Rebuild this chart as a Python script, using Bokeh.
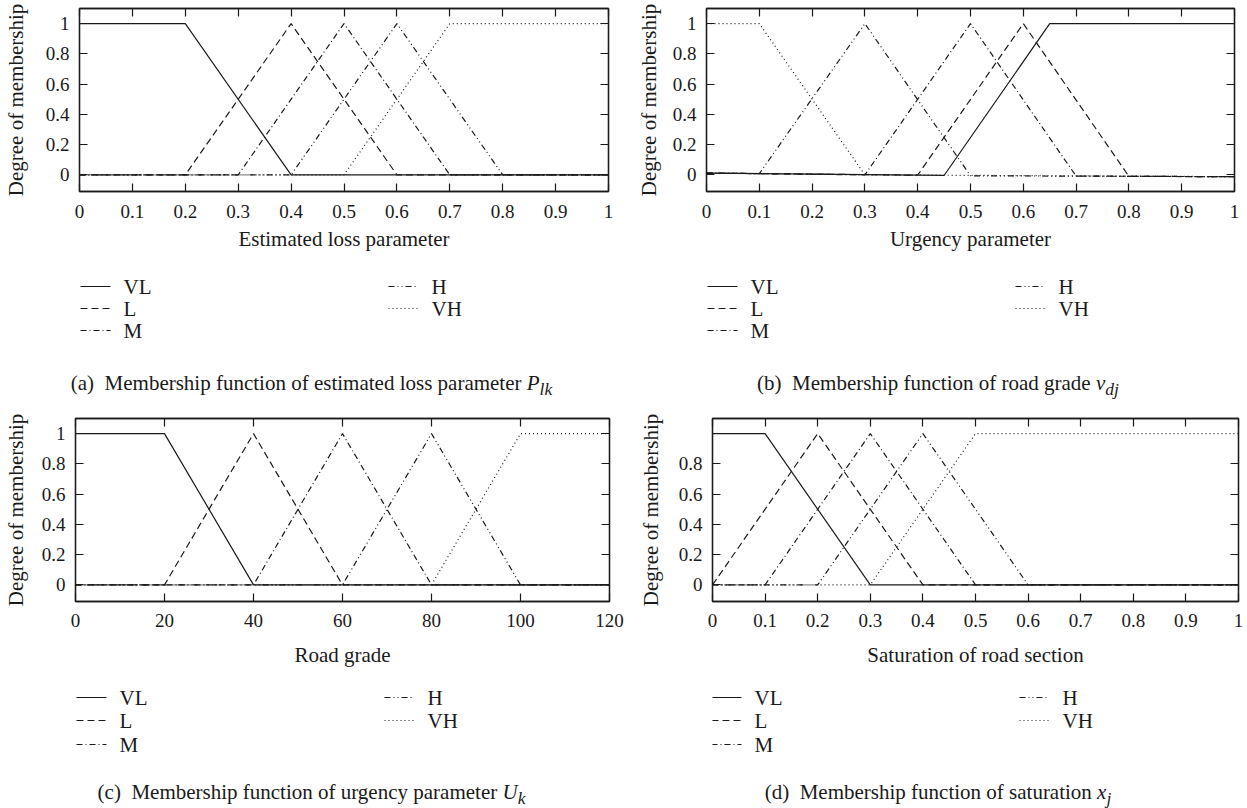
from bokeh.plotting import figure
from bokeh.models import Range1d, LinearAxis, FixedTicker, Div
from bokeh.layouts import column, row
from bokeh.core.properties import value
from bokeh.embed import file_html
from bokeh.resources import INLINE

LABELS = ["VL", "L", "M", "H", "VH"]

# (a) Estimated loss parameter
a_x = {"VL": [0, 0.2, 0.4, 1], "L": [0, 0.2, 0.4, 0.6, 1], "M": [0, 0.3, 0.5, 0.7, 1],
       "H": [0, 0.4, 0.6, 0.8, 1], "VH": [0, 0.5, 0.7, 1]}
a_y = {"VL": [1, 1, 0, 0], "L": [0, 0, 1, 0, 0], "M": [0, 0, 1, 0, 0],
       "H": [0, 0, 1, 0, 0], "VH": [0, 0, 1, 1]}

# (b) Urgency parameter
b_x = {"VL": [0, 0.45, 0.65, 1], "L": [0, 0.4, 0.6, 0.8, 1], "M": [0, 0.3, 0.5, 0.7, 1],
       "H": [0, 0.1, 0.3, 0.5, 1], "VH": [0, 0.1, 0.3, 1]}
b_y = {"VL": [0.012, -0.004, 1, 1], "L": [0.012, -0.002, 1, -0.01, -0.012],
       "M": [0.012, 0.0, 1, -0.008, -0.012], "H": [0.012, 0.008, 1, -0.006, -0.012],
       "VH": [1, 1, 0.0, -0.012]}

# (c) Road grade
c_x = {"VL": [0, 20, 40, 120], "L": [0, 20, 40, 60, 120], "M": [0, 40, 60, 80, 120],
       "H": [0, 60, 80, 100, 120], "VH": [0, 80, 100, 120]}
c_y = {"VL": [1, 1, 0, 0], "L": [0, 0, 1, 0, 0], "M": [0, 0, 1, 0, 0],
       "H": [0, 0, 1, 0, 0], "VH": [0, 0, 1, 1]}

# (d) Saturation of road section
d_x = {"VL": [0, 0.1, 0.3, 1], "L": [0, 0.2, 0.4, 1], "M": [0, 0.1, 0.3, 0.5, 1],
       "H": [0, 0.2, 0.4, 0.6, 1], "VH": [0, 0.3, 0.5, 1]}
d_y = {"VL": [1, 1, 0, 0], "L": [0, 1, 0, 0], "M": [0, 0, 1, 0, 0],
       "H": [0, 0, 1, 0, 0], "VH": [0, 0, 1, 1]}

x_ticks_unit = [0, 0.1, 0.2, 0.3, 0.4, 0.5, 0.6, 0.7, 0.8, 0.9, 1]
x_labels_unit = ["0", "0.1", "0.2", "0.3", "0.4", "0.5", "0.6", "0.7", "0.8", "0.9", "1"]
x_ticks_grade = [0, 20, 40, 60, 80, 100, 120]
x_labels_grade = ["0", "20", "40", "60", "80", "100", "120"]
y_ticks = [0, 0.2, 0.4, 0.6, 0.8, 1]
y_labels = ["0", "0.2", "0.4", "0.6", "0.8", "1"]
y_ticks_d = [0, 0.2, 0.4, 0.6, 0.8]
y_labels_d = ["0", "0.2", "0.4", "0.6", "0.8"]

x_titles = ["Estimated loss parameter", "Urgency parameter", "Road grade", "Saturation of road section"]
captions = [
    "(a)&nbsp; Membership function of estimated loss parameter <i>P</i><sub><i>lk</i></sub>",
    "(b)&nbsp; Membership function of road grade <i>v</i><sub><i>dj</i></sub>",
    "(c)&nbsp; Membership function of urgency parameter <i>U</i><sub><i>k</i></sub>",
    "(d)&nbsp; Membership function of saturation <i>x</i><sub><i>j</i></sub>",
]

DASH = {"VL": "solid", "L": "7 4", "M": "6 3 1 3", "H": "6 3 1 3 1 3", "VH": "1 3"}
FONT = "Liberation Serif"
INK = "#1a1a1a"
LEG_COL = {"VL": 0, "L": 0, "M": 0, "H": 1, "VH": 1}
LEG_ROW = {"VL": 0, "L": 1, "M": 2, "H": 0, "VH": 1}


def style_axis(ax, ticks, labels, show, standoff=12):
    ax.ticker = FixedTicker(ticks=ticks)
    ax.major_tick_in = 8
    ax.major_tick_out = 0
    ax.minor_tick_in = 0
    ax.minor_tick_out = 0
    ax.major_tick_line_color = INK
    ax.major_tick_line_width = 1.2
    ax.axis_line_color = INK
    ax.axis_line_width = 1.3
    if show:
        ax.major_label_overrides = {t: s for t, s in zip(ticks, labels)}
        ax.major_label_text_font = FONT
        ax.major_label_text_font_size = "19px"
        ax.major_label_text_color = INK
        ax.major_label_standoff = standoff
        ax.axis_label_text_font = FONT
        ax.axis_label_text_font_size = "21px"
        ax.axis_label_text_font_style = "normal"
        ax.axis_label_text_color = INK
    else:
        ax.major_label_overrides = {t: "" for t in ticks}
        ax.major_label_text_font_size = "0px"
        ax.major_label_standoff = 0


def panel(xs, ys, xmax, xticks, xlabels, yt, yl, xtitle, left, right, fw, top,
          tick_sd, xlab_sd, ylab_sd):
    p = figure(frame_width=fw, frame_height=183, x_range=Range1d(0, xmax),
               y_range=Range1d(-0.11, 1.1), output_backend="svg", toolbar_location=None,
               min_border_left=left, min_border_right=right, min_border_top=top,
               min_border_bottom=70)
    p.grid.visible = False
    p.outline_line_color = INK
    p.outline_line_width = 1.3
    p.border_fill_color = "white"
    for lab in LABELS:
        p.line(xs[lab], ys[lab], line_color=INK, line_width=1.2, line_dash=DASH[lab])

    style_axis(p.xaxis[0], xticks, xlabels, True, tick_sd)
    p.xaxis[0].axis_label = xtitle
    p.xaxis[0].axis_label_standoff = xlab_sd
    style_axis(p.yaxis[0], yt, yl, True, 10)
    p.yaxis[0].axis_label = "Degree of membership"
    p.yaxis[0].axis_label_standoff = ylab_sd

    top_ax = LinearAxis()
    style_axis(top_ax, xticks, xlabels, False)
    p.add_layout(top_ax, "above")
    right_ax = LinearAxis()
    style_axis(right_ax, yt, yl, False)
    p.add_layout(right_ax, "right")
    return p


def legend_fig(left, fw, right, x0, rows_y, col_dx=308, height=90):
    # the x range is in pixels measured from the column's left edge
    p = figure(frame_width=fw, height=height, x_range=Range1d(left, left + fw),
               y_range=Range1d(height, 0), output_backend="svg", toolbar_location=None,
               min_border_left=left, min_border_right=right, min_border_top=0,
               min_border_bottom=0, x_axis_type=None, y_axis_type=None)
    p.grid.visible = False
    p.outline_line_color = None
    p.border_fill_color = "white"
    for lab in LABELS:
        sx = x0 + LEG_COL[lab] * col_dx
        sy = rows_y[LEG_ROW[lab]]
        p.line([sx, sx + 30], [sy, sy], line_color=INK, line_width=1.2, line_dash=DASH[lab])
        p.text(x=[sx + 43], y=[sy], text=[lab], text_font=value(FONT),
               text_font_size=value("21px"), text_color=INK,
               text_baseline="middle", text_align="left")
    return p


def caption(html, width, height, pad_top):
    return Div(text=f'<div style="text-align:center;font-family:\'{FONT}\';font-size:21px;'
                    f'color:{INK};padding-top:{pad_top}px;white-space:nowrap;width:{width}px">{html}</div>',
               width=width, height=height, margin=0)


pa = panel(a_x, a_y, 1, x_ticks_unit, x_labels_unit, y_ticks, y_labels, x_titles[0],
           76, 18, 529, 8, 13, 6, 15)
pb = panel(b_x, b_y, 1, x_ticks_unit, x_labels_unit, y_ticks, y_labels, x_titles[1],
           80, 16, 528, 8, 13, 6, 9)
pc = panel(c_x, c_y, 120, x_ticks_grade, x_labels_grade, y_ticks, y_labels, x_titles[2],
           72, 17, 534, 7, 12, 13, 11)
pd_ = panel(d_x, d_y, 1, x_ticks_unit, x_labels_unit, y_ticks_d, y_labels_d, x_titles[3],
            86, 12, 526, 7, 12, 13, 13)

la = legend_fig(76, 529, 18, 77, [25, 47, 69])
lb = legend_fig(80, 528, 16, 81, [25, 47, 69])
lc = legend_fig(72, 534, 17, 73, [26, 49, 73])
ld = legend_fig(86, 526, 12, 85, [26, 49, 73])

layout = column(
    row(column(pa, la, caption(captions[0], 623, 60, 17), spacing=0),
        column(pb, lb, caption(captions[1], 624, 60, 17), spacing=0), spacing=0),
    row(column(pc, lc, caption(captions[2], 623, 47, 16), spacing=0),
        column(pd_, ld, caption(captions[3], 624, 47, 16), spacing=0), spacing=0),
    spacing=0,
)

open("out.html", "w").write(file_html(layout, INLINE))
